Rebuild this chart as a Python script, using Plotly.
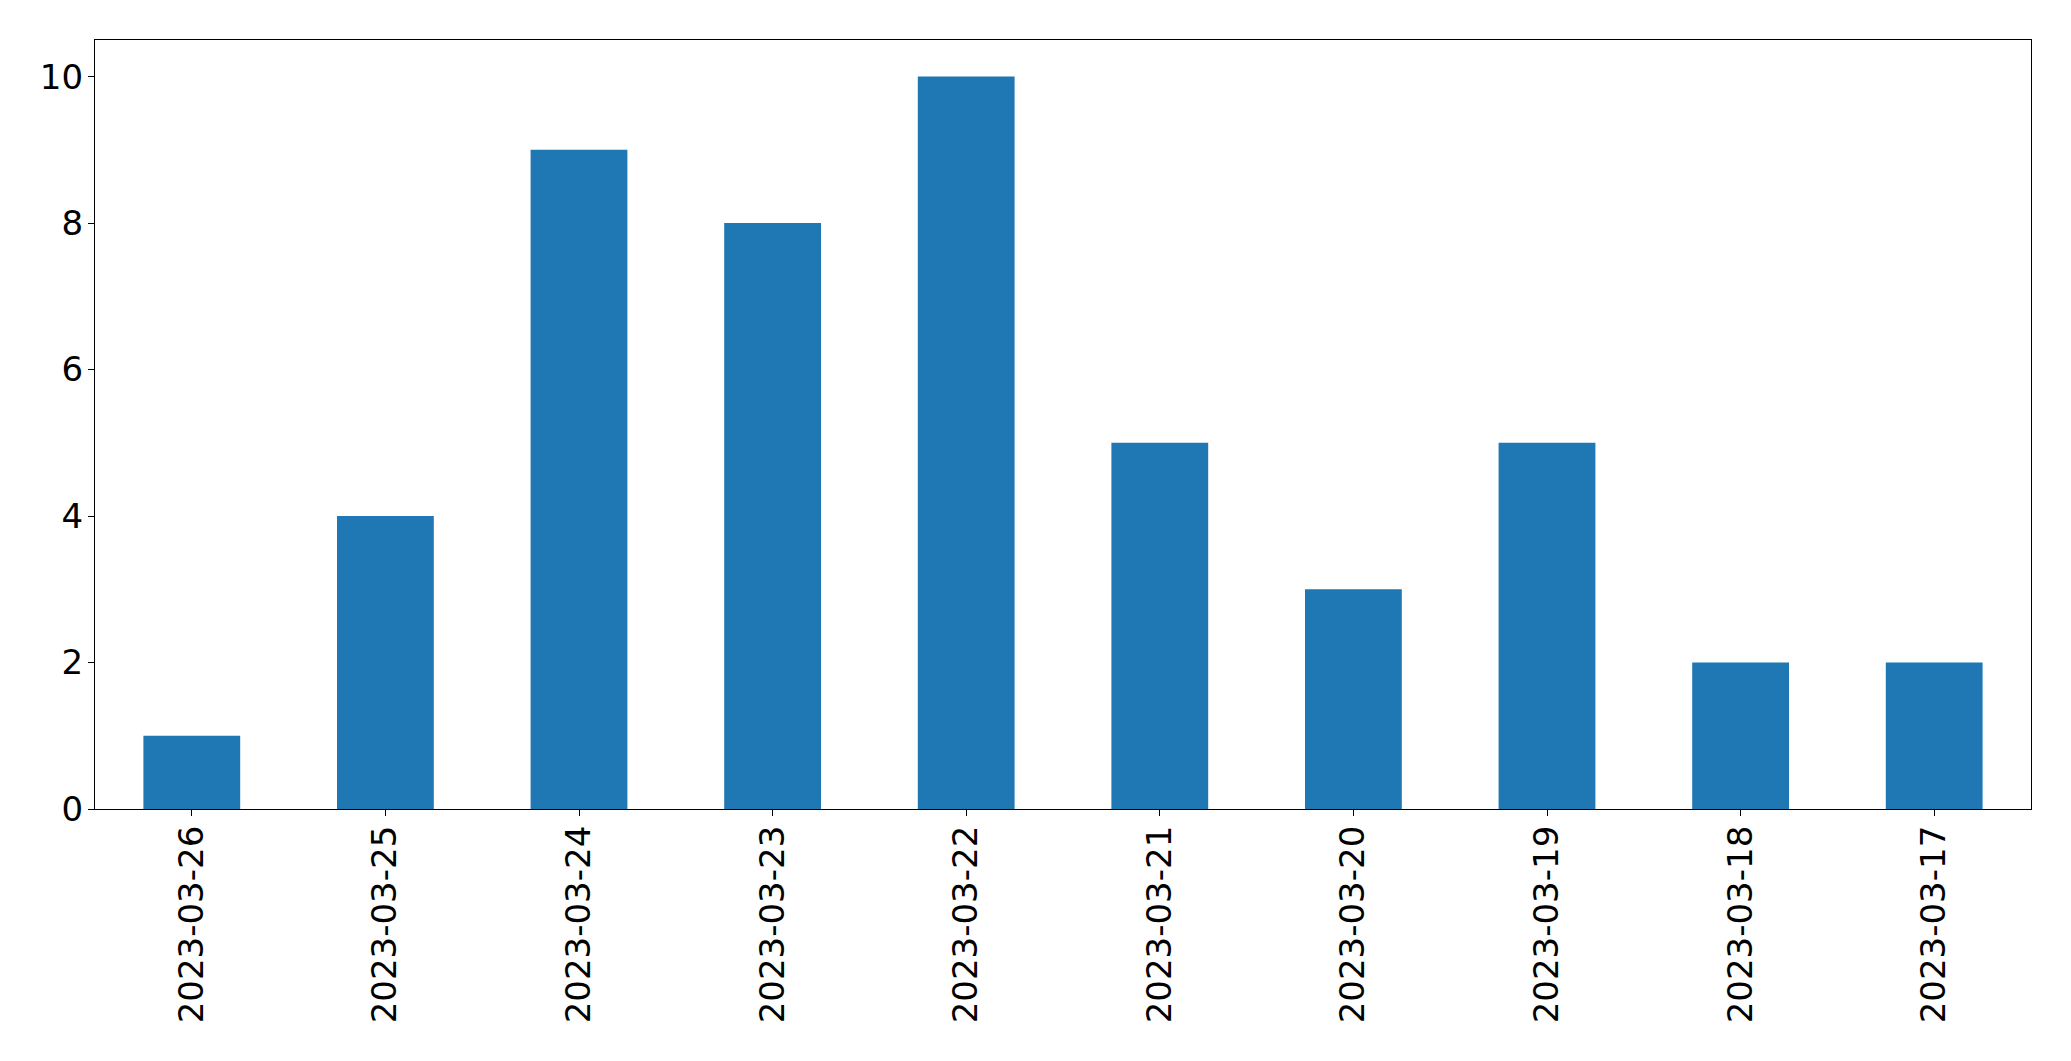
import plotly.graph_objects as go

dates = ["2023-03-26", "2023-03-25", "2023-03-24", "2023-03-23", "2023-03-22",
         "2023-03-21", "2023-03-20", "2023-03-19", "2023-03-18", "2023-03-17"]
counts = [1, 4, 9, 8, 10, 5, 3, 5, 2, 2]
y_ticks = [0, 2, 4, 6, 8, 10]

fig = go.Figure(go.Bar(x=dates, y=counts, marker=dict(color="#1f77b4", line=dict(width=0)), width=0.5))

fig.update_layout(
    width=2071, height=1061,
    margin=dict(l=95, r=40, t=40, b=252),
    paper_bgcolor="white", plot_bgcolor="white",
    font=dict(family="DejaVu Sans", size=34, color="black"),
    showlegend=False, bargap=0.5,
)
fig.update_xaxes(
    type="category", range=[-0.5, 9.5], tickangle=-90,
    showline=True, linecolor="black", linewidth=1.3, mirror=True,
    ticks="outside", ticklen=6, tickcolor="black", tickwidth=1.3,
    showgrid=False, zeroline=False, ticklabelstandoff=-4,
)
fig.update_yaxes(
    range=[0, 10.5], tickvals=y_ticks, ticktext=[str(v) for v in y_ticks],
    showline=True, linecolor="black", linewidth=1.3, mirror=True,
    ticks="outside", ticklen=6, tickcolor="black", tickwidth=1.3,
    showgrid=False, zeroline=False, ticklabelstandoff=-2,
)
fig.write_html("out.html")
